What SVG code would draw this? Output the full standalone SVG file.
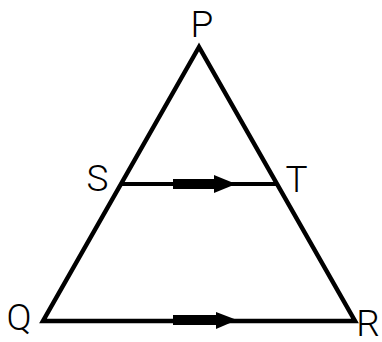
<svg xmlns="http://www.w3.org/2000/svg" width="382" height="342" viewBox="0 0 382 342">
<style>
.lbl{font-family:Roboto,"Liberation Sans",Arial,sans-serif;font-weight:300;font-size:37px;fill:#000}
.edge{stroke:#000;fill:none;stroke-linejoin:miter}
</style>
<rect width="382" height="342" fill="#fff"/>
<g id="connectors">
<polygon class="edge" stroke-width="4.5" points="199,47 43,321 355,321"/>
<line class="edge" stroke-width="4" x1="121" y1="184" x2="277" y2="184"/>
<rect x="173" y="179" width="43" height="10" fill="#000"/>
<polygon points="214,175 236,184 214,193" fill="#000"/>
<rect x="173" y="315" width="45" height="10" fill="#000"/>
<polygon points="216,312 237,320 216,329" fill="#000"/>
</g>
<g id="P"><text class="lbl" x="202" y="37" text-anchor="middle">P</text></g>
<g id="S"><text class="lbl" x="97.5" y="191" text-anchor="middle">S</text></g>
<g id="T"><text class="lbl" x="296.5" y="192" text-anchor="middle">T</text></g>
<g id="Q"><text class="lbl" x="19" y="330" text-anchor="middle">Q</text></g>
<g id="R"><text class="lbl" x="368" y="336" text-anchor="middle">R</text></g>
</svg>
